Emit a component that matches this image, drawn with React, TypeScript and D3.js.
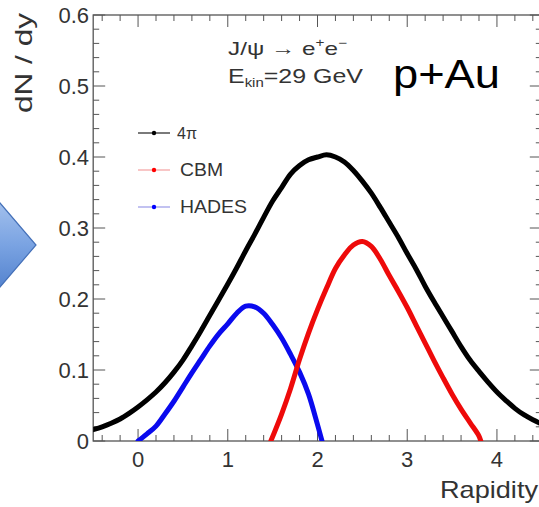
import React from 'react';
import * as d3 from 'd3';

// ---- data ----
const rap4pi = [-0.5, -0.4, -0.3, -0.2, -0.1, 0.0, 0.1, 0.2, 0.3, 0.4, 0.5, 0.6, 0.7, 0.8, 0.9, 1.0, 1.1, 1.2, 1.3, 1.4, 1.5, 1.6, 1.7, 1.8, 1.9, 2.0, 2.1, 2.2, 2.3, 2.4, 2.5, 2.6, 2.7, 2.8, 2.9, 3.0, 3.1, 3.2, 3.3, 3.4, 3.5, 3.6, 3.7, 3.8, 3.9, 4.0, 4.1, 4.2, 4.3, 4.4, 4.5];
const dndy4pi = [0.016, 0.020, 0.025, 0.031, 0.039, 0.048, 0.058, 0.069, 0.082, 0.097, 0.114, 0.134, 0.155, 0.177, 0.199, 0.221, 0.244, 0.268, 0.291, 0.315, 0.338, 0.357, 0.376, 0.388, 0.396, 0.400, 0.403, 0.400, 0.393, 0.381, 0.366, 0.349, 0.329, 0.308, 0.287, 0.264, 0.242, 0.218, 0.196, 0.175, 0.154, 0.133, 0.114, 0.098, 0.083, 0.069, 0.057, 0.046, 0.037, 0.030, 0.024];

const rapCBM = [1.48, 1.6, 1.7, 1.8, 1.9, 2.0, 2.1, 2.2, 2.3, 2.4, 2.5, 2.6, 2.7, 2.8, 2.9, 3.0, 3.1, 3.2, 3.3, 3.4, 3.5, 3.6, 3.7, 3.8, 3.82];
const dndyCBM = [0.0, 0.038, 0.074, 0.115, 0.152, 0.185, 0.215, 0.243, 0.262, 0.276, 0.281, 0.274, 0.256, 0.233, 0.211, 0.188, 0.163, 0.138, 0.113, 0.089, 0.066, 0.045, 0.026, 0.007, 0.0];

const rapHADES = [0.0, 0.1, 0.2, 0.3, 0.4, 0.5, 0.6, 0.7, 0.8, 0.9, 1.0, 1.1, 1.2, 1.3, 1.4, 1.5, 1.6, 1.7, 1.8, 1.9, 2.0, 2.05];
const dndyHADES = [0.0, 0.010, 0.021, 0.038, 0.056, 0.076, 0.096, 0.115, 0.134, 0.151, 0.165, 0.180, 0.190, 0.189, 0.180, 0.164, 0.145, 0.122, 0.097, 0.066, 0.023, 0.0];

const xTickValues = [0, 1, 2, 3, 4];
const xTickLabels = ['0', '1', '2', '3', '4'];
const yTickValues = [0, 0.1, 0.2, 0.3, 0.4, 0.5, 0.6];
const yTickLabels = ['0', '0.1', '0.2', '0.3', '0.4', '0.5', '0.6'];

const legendLabels = ['4\u03c0', 'CBM', 'HADES'];
const legendColors = ['#000000', '#ff0000', '#0000ff'];
const legendLineColors = ['#222222', '#f4a0a0', '#9a9ae8'];

const W = 539;
const H = 507;
const FONT = "'Liberation Sans', Arial, Helvetica, sans-serif";
const AX = '#555555';

export default function App() {
  const x = d3.scaleLinear().domain([-0.5, 4.5]).range([93.2, 541.8]);
  const y = d3.scaleLinear().domain([0, 0.6]).range([441, 15]);
  const [x0, x1] = x.range();
  const [yb, yt] = y.range();

  const mk = (xs: number[], ys: number[]) =>
    d3
      .line<number>()
      .x((_, i) => x(xs[i]))
      .y((d) => y(d))
      .curve(d3.curveCatmullRom.alpha(0.5))(ys) as string;

  const xMinor = d3.range(-0.4, 4.5, 0.2).filter((v) => Math.abs(v - Math.round(v)) > 1e-6);
  const yMinor = d3.range(0.02, 0.6, 0.02).filter((v) => Math.abs(v * 10 - Math.round(v * 10)) > 1e-6);

  const series = [
    { xs: rapHADES, ys: dndyHADES, color: '#0a0aee' },
    { xs: rapCBM, ys: dndyCBM, color: '#ee0a0a' },
    { xs: rap4pi, ys: dndy4pi, color: '#000000' },
  ];

  const legendY = [133, 170, 207];

  return (
    <svg
      width={W}
      height={H}
      viewBox={`0 0 ${W} ${H}`}
      style={{ position: 'absolute', left: 0, top: 0, background: '#fff' }}
      fontFamily={FONT}
    >
      <defs>
        <linearGradient id="arrowGrad" x1="0" y1="0" x2="0" y2="1">
          <stop offset="0" stopColor="#a8c4ee" />
          <stop offset="0.5" stopColor="#7aa3e2" />
          <stop offset="1" stopColor="#4f7fcc" />
        </linearGradient>
        <clipPath id="plotClip">
          <rect x={x0} y={yt - 5} width={x1 - x0} height={yb - yt + 5} />
        </clipPath>
      </defs>

      {/* blue arrow shape at left */}
      <polygon points="-6,196 36,245 -6,294" fill="url(#arrowGrad)" stroke="#4470b8" strokeWidth={1.2} />

      {/* frame */}
      <rect x={x0} y={yt} width={x1 - x0} height={yb - yt} fill="none" stroke={AX} strokeWidth={1.3} />

      {/* x ticks (bottom and top) */}
      {xTickValues.map((v) => (
        <g key={'xM' + v}>
          <line x1={x(v)} x2={x(v)} y1={yb} y2={yb - 12} stroke={AX} strokeWidth={1} />
          <line x1={x(v)} x2={x(v)} y1={yt} y2={yt + 12} stroke={AX} strokeWidth={1} />
        </g>
      ))}
      {xMinor.map((v) => (
        <g key={'xm' + v}>
          <line x1={x(v)} x2={x(v)} y1={yb} y2={yb - 6} stroke={AX} strokeWidth={1} />
          <line x1={x(v)} x2={x(v)} y1={yt} y2={yt + 6} stroke={AX} strokeWidth={1} />
        </g>
      ))}
      {/* y ticks (left and right) */}
      {yTickValues.map((v) => (
        <g key={'yM' + v}>
          <line x1={x0} x2={x0 + 12} y1={y(v)} y2={y(v)} stroke={AX} strokeWidth={1} />
          <line x1={x1} x2={x1 - 12} y1={y(v)} y2={y(v)} stroke={AX} strokeWidth={1} />
        </g>
      ))}
      {yMinor.map((v) => (
        <g key={'ym' + v}>
          <line x1={x0} x2={x0 + 6} y1={y(v)} y2={y(v)} stroke={AX} strokeWidth={1} />
          <line x1={x1} x2={x1 - 6} y1={y(v)} y2={y(v)} stroke={AX} strokeWidth={1} />
        </g>
      ))}

      {/* tick labels */}
      {xTickValues.map((v, i) => (
        <text key={'xl' + v} x={x(v)} y={467} textAnchor="middle" fontSize={22} fill="#333">
          {xTickLabels[i]}
        </text>
      ))}
      {yTickValues.map((v, i) => (
        <text key={'yl' + v} x={89} y={y(v) + 8} textAnchor="end" fontSize={22} fill="#333">
          {yTickLabels[i]}
        </text>
      ))}

      {/* axis titles */}
      <text x={538} y={498} textAnchor="end" fontSize={24} fill="#333" textLength={98} lengthAdjust="spacingAndGlyphs">
        Rapidity
      </text>
      <text
        transform="translate(32,113) rotate(-90)"
        x={0}
        y={0}
        fontSize={24}
        fill="#333"
        textLength={100}
        lengthAdjust="spacingAndGlyphs"
      >
        dN / dy
      </text>

      {/* data */}
      <g clipPath="url(#plotClip)">
        {series.map((s, i) => (
          <path
            key={'s' + i}
            d={mk(s.xs, s.ys)}
            fill="none"
            stroke={s.color}
            strokeWidth={5}
            strokeLinejoin="round"
            strokeLinecap="round"
          />
        ))}
      </g>

      {/* legend */}
      {legendLabels.map((lab, i) => (
        <g key={'lg' + i}>
          <line x1={138} x2={170} y1={legendY[i]} y2={legendY[i]} stroke={legendLineColors[i]} strokeWidth={1.2} />
          <circle cx={154} cy={legendY[i]} r={2.2} fill={legendColors[i]} />
          <text
            x={i === 0 ? 177 : 180}
            y={legendY[i] + 6}
            fontSize={i === 0 ? 16 : 18}
            fill="#333"
            textLength={i === 0 ? 20 : i === 1 ? 43 : 67}
            lengthAdjust="spacingAndGlyphs"
          >
            {lab}
          </text>
        </g>
      ))}

      {/* annotations */}
      <text x={228} y={55} fontSize={19} fill="#333" textLength={119} lengthAdjust="spacingAndGlyphs">
        J/{'\u03c8'} {'\u2192'} e
        <tspan fontSize={12} dy={-8}>+</tspan>
        <tspan fontSize={19} dy={8}>e</tspan>
        <tspan fontSize={12} dy={-8}>{'\u2212'}</tspan>
      </text>
      <text x={228} y={83} fontSize={20} fill="#333" textLength={135} lengthAdjust="spacingAndGlyphs">
        E<tspan fontSize={12} dy={4}>kin</tspan>
        <tspan fontSize={20} dy={-4}>=29 GeV</tspan>
      </text>
      <text x={393} y={88} fontSize={40} fill="#000" textLength={107} lengthAdjust="spacingAndGlyphs">
        p+Au
      </text>
    </svg>
  );
}
